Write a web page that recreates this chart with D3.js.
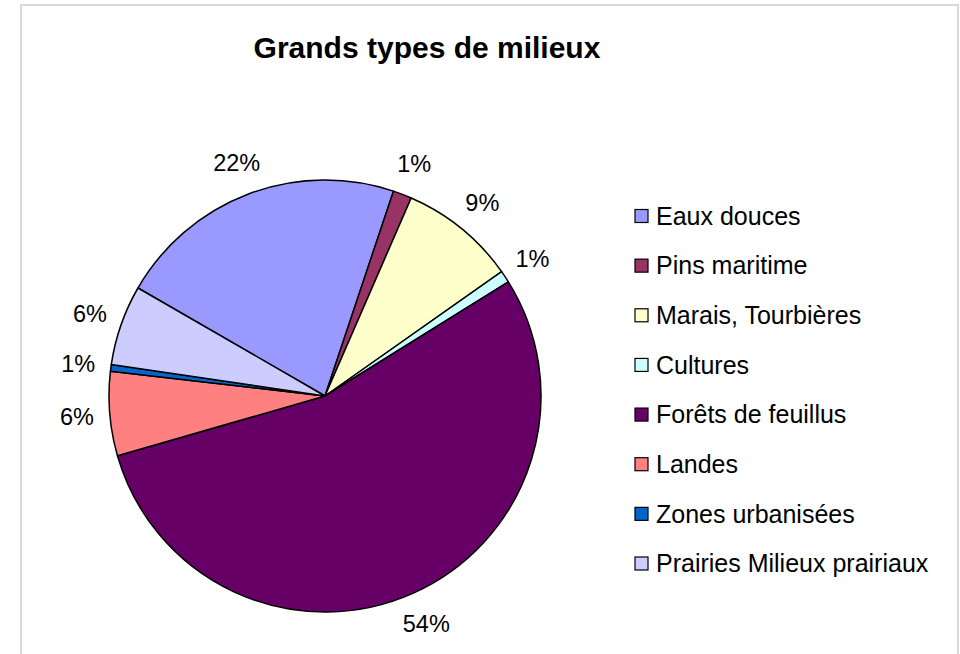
<!DOCTYPE html>
<html>
<head>
<meta charset="utf-8">
<script src="https://cdn.jsdelivr.net/npm/d3@7"></script>
<style>
  body { margin: 0; background: #fff; }
  svg { display: block; font-family: "Liberation Sans", Arial, sans-serif; }
</style>
</head>
<body>
<svg id="chart"></svg>
<script>
// Chart size
const width = 960;
const height = 654;

// Data (percent of area)
const categories = ['Eaux douces', 'Pins maritime', 'Marais, Tourbières', 'Cultures',
  'Forêts de feuillus', 'Landes', 'Zones urbanisées', 'Prairies Milieux prairiaux'];
const values = [21.8, 1.4, 8.7, 0.9, 54.4, 6.3, 0.5, 6.0];
const colors = ['#9999ff', '#993366', '#ffffcc', '#ccffff', '#660066', '#ff8080', '#0066cc', '#ccccff'];

const data = categories.map((name, i) => ({ name, value: values[i] }));
const total = d3.sum(values);

const svg = d3.select('#chart')
  .attr('width', width)
  .attr('height', height);

// Outer frame of the chart area
svg.append('rect')
  .attr('x', 21)
  .attr('y', 5)
  .attr('width', 937)
  .attr('height', 680)
  .attr('fill', '#fff')
  .attr('stroke', '#d9d9d9')
  .attr('stroke-width', 2);

// Title
svg.append('text')
  .attr('x', 427)
  .attr('y', 58)
  .attr('text-anchor', 'middle')
  .attr('font-size', 30)
  .attr('font-weight', 'bold')
  .text('Grands types de milieux');

// Pie
const cx = 325;
const cy = 396;
const radius = 216;
const startDeg = -60;

const color = d3.scaleOrdinal().domain(categories).range(colors);

const pie = d3.pie()
  .sort(null)
  .value((d) => d.value)
  .startAngle(startDeg * Math.PI / 180)
  .endAngle((startDeg + 360) * Math.PI / 180);

const arc = d3.arc().innerRadius(0).outerRadius(radius);
const labelRadius = 249;

const g = svg.append('g').attr('transform', `translate(${cx},${cy})`);
const arcs = pie(data);

g.selectAll('path')
  .data(arcs)
  .enter()
  .append('path')
  .attr('d', arc)
  .attr('fill', (d) => color(d.data.name))
  .attr('stroke', '#000')
  .attr('stroke-width', 1.5)
  .attr('stroke-linejoin', 'round');

// Percentage labels just outside the pie
g.selectAll('text.pct')
  .data(arcs)
  .enter()
  .append('text')
  .attr('class', 'pct')
  .attr('x', (d) => labelRadius * Math.sin((d.startAngle + d.endAngle) / 2))
  .attr('y', (d) => -labelRadius * Math.cos((d.startAngle + d.endAngle) / 2))
  .attr('dy', '0.35em')
  .attr('text-anchor', 'middle')
  .attr('font-size', 23.5)
  .text((d) => Math.round(d.data.value / total * 100) + '%');

// Legend
const legendY = d3.scalePoint()
  .domain(categories)
  .range([216, 563.5]);

const legend = svg.append('g');
const item = legend.selectAll('g')
  .data(categories)
  .enter()
  .append('g')
  .attr('transform', (d) => `translate(635,${legendY(d)})`);

item.append('rect')
  .attr('x', 0)
  .attr('y', -6.5)
  .attr('width', 13)
  .attr('height', 13)
  .attr('fill', (d) => color(d))
  .attr('stroke', '#000')
  .attr('stroke-width', 1.2);

item.append('text')
  .attr('x', 21)
  .attr('y', 0)
  .attr('dy', '0.35em')
  .attr('font-size', 25)
  .text((d) => d);
</script>
</body>
</html>
